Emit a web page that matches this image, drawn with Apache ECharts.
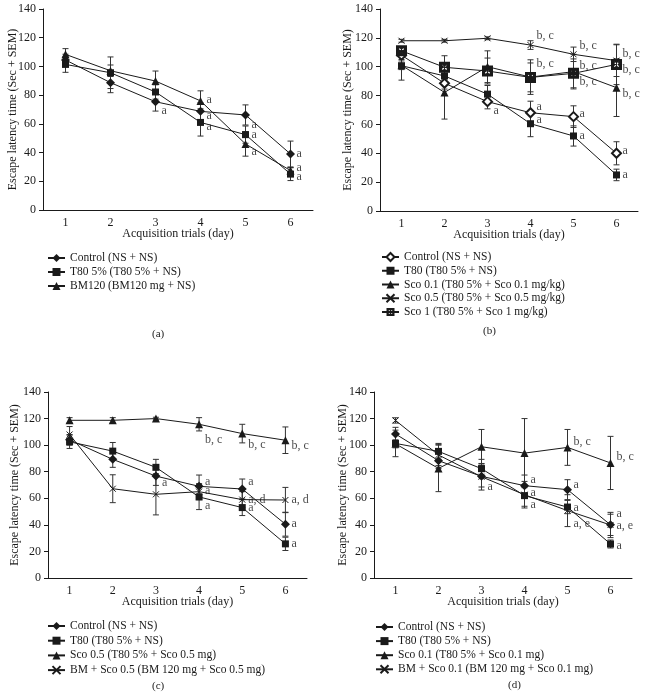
<!DOCTYPE html>
<html>
<head>
<meta charset="utf-8">
<script src="https://cdn.jsdelivr.net/npm/echarts@6/dist/echarts.min.js"></script>
<style>html,body{margin:0;background:#fff}#main{width:646px;height:694px}</style>
</head>
<body>
<div id="main"></div>
<script>
const days = ['1', '2', '3', '4', '5', '6'];

// panel (a)
const aControl = [104.5, 88.7, 75.4, 68.7, 66.2, 39];
const aControlSem = [4, 7, 6.5, 6, 7, 9];
const aT80 = [101.4, 95.6, 82.2, 61, 52.5, 25];
const aT80Sem = [5.5, 11, 5, 9.5, 6, 4.5];
const aBM120 = [108.4, 97, 89.8, 76, 46, 27.5];
const aBM120Sem = [4, 4, 7, 7, 8.5, 2];
const aNotes = [[2, 69.2, 'a'], [3, 76.6, 'a'], [3, 65.7, 'a'], [3, 57.6, 'a'], [4, 59.2, 'a'],
  [4, 52.5, 'a'], [4, 40.4, 'a'], [5, 39.2, 'a'], [5, 29.3, 'a'], [5, 23.4, 'a']];

// panel (b)
const bControl = [108, 88.5, 75.8, 68.1, 65.4, 40];
const bControlSem = [3, 4, 5, 8, 7.5, 8];
const bT80 = [100.7, 93.6, 81, 60.5, 52, 25];
const bT80Sem = [10, 6, 6, 9, 7, 4];
const bSco01 = [101, 82.2, 100, 92.8, 96.6, 85.5];
const bSco01Sem = [3, 18.5, 11, 12, 12, 20];
const bSco05 = [118, 118, 119.7, 115, 108.6, 104.2];
const bSco05Sem = [1, 1, 1, 3, 5, 11];
const bSco1 = [111, 99.6, 97, 92.6, 95.4, 101.6];
const bSco1Sem = [3, 8, 9, 10, 10, 14];
const bNotes = [[2, 69.4, 'a'], [3, 121.3, 'b, c'], [3, 101.7, 'b, c'], [3, 71.9, 'a'], [3, 63.5, 'a'],
  [4, 114.3, 'b, c'], [4, 100.7, 'b, c'], [4, 89.4, 'b, c'], [4, 67.4, 'a'], [4, 52.4, 'a'],
  [5, 108.6, 'b, c'], [5, 97.7, 'b, c'], [5, 80.9, 'b, c'], [5, 41.6, 'a'], [5, 25.4, 'a']];

// panel (c)
const cControl = [104, 89.3, 76.7, 69, 67, 40.5];
const cControlSem = [4, 6, 7, 8.5, 7.5, 9];
const cT80 = [102.5, 95.5, 83.3, 61, 53, 25.7];
const cT80Sem = [5, 6.5, 6, 9.5, 6, 5];
const cSco05 = [118.7, 118.7, 120, 115.7, 108.7, 103.7];
const cSco05Sem = [2, 2, 1, 5, 7, 10];
const cBMSco05 = [108, 67.2, 63, 65, 59, 58.7];
const cBMSco05Sem = [6, 10.5, 15.5, 6, 6, 9.5];
const cNotes = [[2, 71.7, 'a'], [3, 104, 'b, c'], [3, 72.7, 'a'], [3, 65.5, 'a'], [3, 54.5, 'a'],
  [4, 100.5, 'b, c'], [4, 72.7, 'a'], [4, 59.2, 'a, d'], [4, 52.5, 'a'],
  [5, 99.7, 'b, c'], [5, 58.7, 'a, d'], [5, 40.5, 'a'], [5, 25.7, 'a']];

// panel (d)
const dControl = [108.4, 88.3, 76.5, 69.5, 66.5, 40];
const dControlSem = [5, 6, 8, 8, 7.5, 8];
const dT80 = [101.3, 95.3, 82.3, 62, 53.4, 25.6];
const dT80Sem = [10, 6, 7, 8, 5, 3];
const dSco01 = [101, 82.5, 98.8, 94, 98.3, 86.6];
const dSco01Sem = [3, 17.5, 13, 26, 13.5, 20];
const dBMSco01 = [118.6, 92.6, 76.2, 62.7, 50.7, 39.9];
const dBMSco01Sem = [2, 8, 10, 10, 12, 9.5];
const dNotes = [[2, 68.5, 'a'], [3, 74, 'a'], [3, 64.4, 'a'], [3, 55, 'a'], [4, 102.4, 'b, c'],
  [4, 70, 'a'], [4, 53.1, 'a'], [4, 40.6, 'a, e'], [5, 91, 'b, c'], [5, 48.6, 'a'],
  [5, 39.6, 'a, e'], [5, 24.5, 'a']];

const FONT = '"Liberation Serif", "DejaVu Serif", serif';
const INK = '#1a1a1a';

// marker styles
const DIAMOND = { symbol: 'diamond', symbolSize: 9 };
const OPEN_DIAMOND = { symbol: 'emptyDiamond', symbolSize: 9 };
const SQUARE = { symbol: 'rect', symbolSize: 7 };
const TRIANGLE = { symbol: 'triangle', symbolSize: 8 };
const CROSS = { symbol: 'path://M0,0L10,10M10,0L0,10', symbolSize: 6 };
// black square with a white x cut out (slit keeps it one outline)
const BOXCROSS = {
  symbol: 'path://M0,0L10,0L10,10L0,10L0,5L4.2,5L2.6,6.6L3.4,7.4L5,5.8L6.6,7.4L7.4,6.6L5.8,5L7.4,3.4L6.6,2.6L5,4.2L3.4,2.6L2.6,3.4L4.2,5L0,5Z',
  symbolSize: 11
};

const grids = [
  { left: 43, top: 9, width: 270, height: 201 },
  { left: 380, top: 9, width: 258, height: 202 },
  { left: 48, top: 392, width: 259, height: 186 },
  { left: 374, top: 392, width: 258, height: 186 }
];
const yNameGap = [24, 26, 27, 25];

function lineSeries(panel, name, data, mark) {
  return {
    name: panel + '|' + name,
    type: 'line',
    xAxisIndex: panel,
    yAxisIndex: panel,
    data: data,
    symbol: mark.symbol,
    symbolSize: mark.symbolSize,
    lineStyle: { color: INK, width: 1 },
    itemStyle: { color: INK, borderColor: INK, borderWidth: mark === CROSS ? 1 : 0 },
    z: 3,
    silent: true,
    animation: false
  };
}

function errorSeries(panel, groups) {
  const data = [];
  groups.forEach(g => g[0].forEach((v, i) => data.push([i, v, g[1][i]])));
  return {
    type: 'custom',
    xAxisIndex: panel,
    yAxisIndex: panel,
    data: data,
    z: 2,
    silent: true,
    animation: false,
    renderItem: function (params, api) {
      const x = api.value(0), y = api.value(1), s = api.value(2);
      const top = api.coord([x, y + s]);
      const bot = api.coord([x, y - s]);
      const st = { stroke: '#333', lineWidth: 1 };
      return {
        type: 'group',
        children: [
          { type: 'line', shape: { x1: top[0], y1: top[1], x2: bot[0], y2: bot[1] }, style: st },
          { type: 'line', shape: { x1: top[0] - 3, y1: top[1], x2: top[0] + 3, y2: top[1] }, style: st },
          { type: 'line', shape: { x1: bot[0] - 3, y1: bot[1], x2: bot[0] + 3, y2: bot[1] }, style: st }
        ]
      };
    }
  };
}

function noteSeries(panel, notes) {
  return {
    type: 'scatter',
    xAxisIndex: panel,
    yAxisIndex: panel,
    symbolSize: 0,
    silent: true,
    z: 4,
    animation: false,
    data: notes.map(n => ({ value: [n[0], n[1]], label: { formatter: n[2] } })),
    label: { show: true, position: 'right', distance: 6, fontFamily: FONT, fontSize: 12, color: INK }
  };
}

const panels = [
  [['Control (NS + NS)', aControl, aControlSem, DIAMOND],
   ['T80 5% (T80 5% + NS)', aT80, aT80Sem, SQUARE],
   ['BM120 (BM120 mg + NS)', aBM120, aBM120Sem, TRIANGLE]],
  [['Control (NS + NS)', bControl, bControlSem, OPEN_DIAMOND],
   ['T80 (T80 5% + NS)', bT80, bT80Sem, SQUARE],
   ['Sco 0.1 (T80 5% + Sco 0.1 mg/kg)', bSco01, bSco01Sem, TRIANGLE],
   ['Sco 0.5 (T80 5% + Sco 0.5 mg/kg)', bSco05, bSco05Sem, CROSS],
   ['Sco 1 (T80 5% + Sco 1 mg/kg)', bSco1, bSco1Sem, BOXCROSS]],
  [['Control (NS + NS)', cControl, cControlSem, DIAMOND],
   ['T80 (T80 5% + NS)', cT80, cT80Sem, SQUARE],
   ['Sco 0.5 (T80 5% + Sco 0.5 mg)', cSco05, cSco05Sem, TRIANGLE],
   ['BM + Sco 0.5 (BM 120 mg + Sco 0.5 mg)', cBMSco05, cBMSco05Sem, CROSS]],
  [['Control (NS + NS)', dControl, dControlSem, DIAMOND],
   ['T80 (T80 5% + NS)', dT80, dT80Sem, SQUARE],
   ['Sco 0.1 (T80 5% + Sco 0.1 mg)', dSco01, dSco01Sem, TRIANGLE],
   ['BM + Sco 0.1 (BM 120 mg + Sco 0.1 mg)', dBMSco01, dBMSco01Sem, CROSS]]
];
const notes = [aNotes, bNotes, cNotes, dNotes];
const legendPos = [
  { left: 47, top: 252, itemGap: 2 },
  { left: 381, top: 251, itemGap: 1.75 },
  { left: 47, top: 620, itemGap: 2.7 },
  { left: 375, top: 621, itemGap: 2.1 }
];
const tags = [
  { text: '(a)', left: 152, top: 329 },
  { text: '(b)', left: 483, top: 326 },
  { text: '(c)', left: 152, top: 681 },
  { text: '(d)', left: 508, top: 680 }
];

const series = [];
const legends = [];
panels.forEach((p, k) => {
  p.forEach(s => series.push(lineSeries(k, s[0], s[1], s[3])));
  series.push(errorSeries(k, p.map(s => [s[1], s[2]])));
  series.push(noteSeries(k, notes[k]));
  legends.push(Object.assign({
    orient: 'vertical',
    selectedMode: false,
    padding: 0,
    itemWidth: 17,
    itemHeight: 10,
    data: p.map(s => k + '|' + s[0]),
    formatter: n => n.split('|')[1],
    textStyle: { fontFamily: FONT, fontSize: 11.5, color: INK }
  }, legendPos[k]));
});

const axisText = { fontFamily: FONT, fontSize: 12, color: INK };

const option = {
  backgroundColor: '#fff',
  animation: false,
  title: tags.map(t => ({
    text: t.text, left: t.left, top: t.top, padding: 0,
    textStyle: { fontFamily: FONT, fontSize: 11, fontWeight: 'normal', color: INK }
  })),
  legend: legends,
  grid: grids,
  xAxis: grids.map((g, k) => ({
    type: 'category',
    gridIndex: k,
    data: days,
    boundaryGap: true,
    name: 'Acquisition trials (day)',
    nameLocation: 'middle',
    nameGap: 18,
    nameMoveOverlap: false,
    nameTextStyle: axisText,
    axisLine: { lineStyle: { color: INK, width: 1 } },
    axisTick: { length: 4, lineStyle: { color: INK } },
    axisLabel: Object.assign({ margin: 7 }, axisText),
    splitLine: { show: false }
  })),
  yAxis: grids.map((g, k) => ({
    type: 'value',
    gridIndex: k,
    min: 0,
    max: 140,
    interval: 20,
    name: 'Escape latency time (Sec + SEM)',
    nameLocation: 'middle',
    nameGap: yNameGap[k],
    nameMoveOverlap: false,
    nameTextStyle: axisText,
    axisLine: { show: true, lineStyle: { color: INK, width: 1 } },
    axisTick: { show: true, length: 4, lineStyle: { color: INK } },
    axisLabel: Object.assign({ margin: 7 }, axisText),
    splitLine: { show: false }
  })),
  series: series
};

const chart = echarts.init(document.getElementById('main'), null, { renderer: 'canvas' });
chart.setOption(option);
</script>
</body>
</html>
